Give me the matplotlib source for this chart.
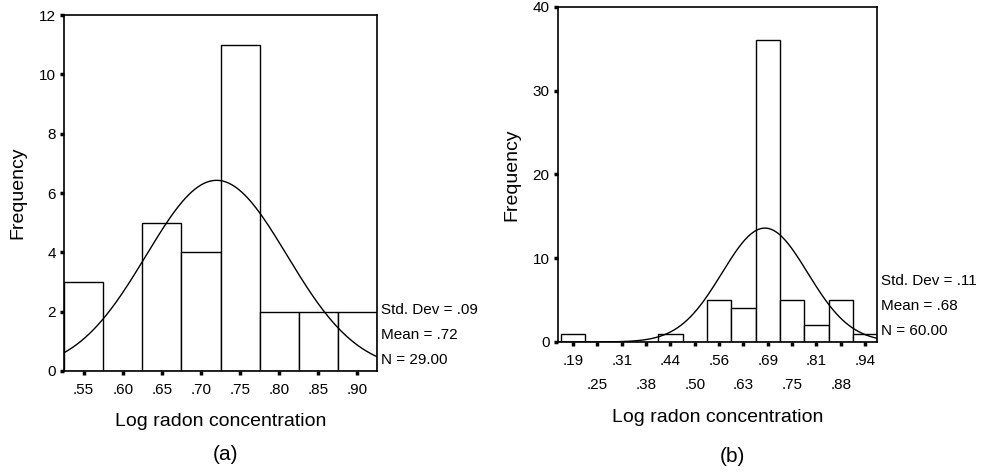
import numpy as np
import matplotlib.pyplot as plt
from matplotlib.transforms import blended_transform_factory, offset_copy

plt.rcParams['font.family'] = ['Liberation Sans', 'DejaVu Sans']

# Panel (a): bin centres, counts, summary stats
centres_a = [0.55, 0.60, 0.65, 0.70, 0.75, 0.80, 0.85, 0.90]
counts_a = [3, 0, 5, 4, 11, 2, 2, 2]
tick_labels_a = ['.55', '.60', '.65', '.70', '.75', '.80', '.85', '.90']
mean_a, sd_a, n_a = 0.72, 0.09, 29

# Panel (b)
centres_b = [0.1875, 0.25, 0.3125, 0.375, 0.4375, 0.5, 0.5625,
             0.625, 0.6875, 0.75, 0.8125, 0.875, 0.9375]
counts_b = [1, 0, 0, 0, 1, 0, 5, 4, 36, 5, 2, 5, 1]
tick_labels_b = ['.19', '.25', '.31', '.38', '.44', '.50', '.56',
                 '.63', '.69', '.75', '.81', '.88', '.94']
mean_b, sd_b, n_b = 0.68, 0.11, 60


def draw_hist(ax, centres, counts, labels, mean, sd, n, xlim, ylim, yticks,
              stagger=False):
    width = centres[1] - centres[0]
    ax.bar(centres, counts, width=width, color='white', edgecolor='black',
           linewidth=1.0, zorder=2)
    x = np.linspace(xlim[0], xlim[1], 300)
    y = n * width / (sd * np.sqrt(2 * np.pi)) * np.exp(-0.5 * ((x - mean) / sd) ** 2)
    ax.plot(x, y, color='black', linewidth=1.0, zorder=3)
    ax.set_xlim(*xlim)
    ax.set_ylim(*ylim)
    if stagger:
        # two rows of tick labels, alternating
        ax.set_xticks(centres[0::2])
        ax.set_xticklabels(labels[0::2], fontsize=11)
        ax.set_xticks(centres[1::2], minor=True)
        ax.set_xticklabels(labels[1::2], minor=True, fontsize=11)
        ax.tick_params(axis='x', which='minor', direction='out', length=3,
                       width=2.5, pad=23)
    else:
        ax.set_xticks(centres)
        ax.set_xticklabels(labels, fontsize=11)
    ax.set_yticks(yticks)
    ax.set_yticklabels([str(v) for v in yticks], fontsize=11)
    ax.tick_params(which='major', direction='out', length=3, width=2.5, pad=6)
    ax.tick_params(axis='y', pad=3)
    for s in ax.spines.values():
        s.set_linewidth(1.2)
    ax.set_xlabel('Log radon concentration', fontsize=14,
                  labelpad=(12 if stagger else 11))
    ax.set_ylabel('Frequency', fontsize=14, labelpad=9)
    tr = blended_transform_factory(ax.transAxes, ax.transAxes)
    fig = ax.figure
    for txt, dy in [('Std. Dev = .%02d' % round(sd * 100), 61),
                    ('Mean = .%02d' % round(mean * 100), 36),
                    ('N = %.2f' % n, 11)]:
        t = offset_copy(tr, fig=fig, x=4, y=dy, units='dots')
        ax.text(1.0, 0.0, txt, transform=t, fontsize=11, va='center', ha='left')


fig = plt.figure(figsize=(9.86, 4.74), dpi=100)
ax_a = fig.add_axes([0.0649, 0.2173, 0.3175, 0.751])
ax_b = fig.add_axes([0.566, 0.2785, 0.3235, 0.7068])

draw_hist(ax_a, centres_a, counts_a, tick_labels_a, mean_a, sd_a, n_a,
          (0.525, 0.925), (0, 12), [0, 2, 4, 6, 8, 10, 12])
draw_hist(ax_b, centres_b, counts_b, tick_labels_b, mean_b, sd_b, n_b,
          (0.149, 0.968), (0, 40), [0, 10, 20, 30, 40], stagger=True)

fig.text(0.229, 0.03, '(a)', fontsize=15, ha='center')
fig.text(0.743, 0.025, '(b)', fontsize=15, ha='center')

fig.savefig('out.png', dpi=100)
